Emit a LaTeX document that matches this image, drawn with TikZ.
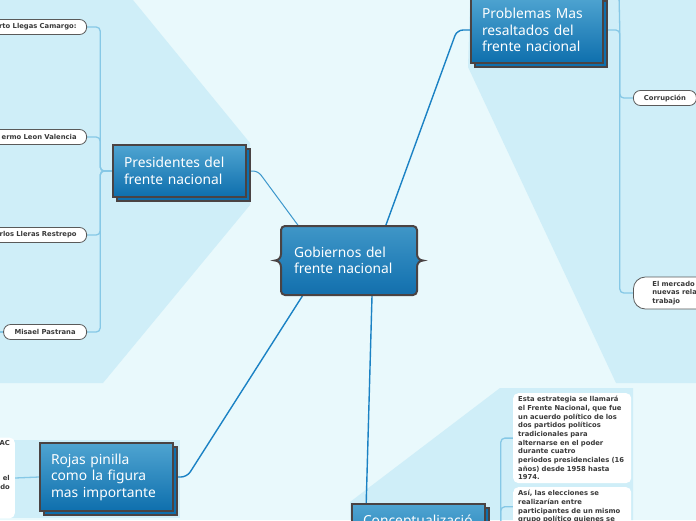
\documentclass[tikz,border=0pt]{standalone}
\usepackage{fontspec}
\setmainfont{DejaVu Sans}
\newfontfamily\ttlfont{Noto Sans}
\usetikzlibrary{shadows,calc}
\definecolor{bgc}{HTML}{E9F9FC}
\definecolor{regc}{HTML}{CFEEF8}
\definecolor{boxtop}{HTML}{4FA4D1}
\definecolor{boxbot}{HTML}{0E6FAD}
\definecolor{bord}{HTML}{4A4343}
\definecolor{mainc}{HTML}{1B82C4}
\definecolor{thinc}{HTML}{3C97CC}
\definecolor{brc}{HTML}{86C8E6}
\definecolor{pillb}{HTML}{5A5A5A}
\definecolor{txt}{HTML}{3A3A3A}
\definecolor{gA}{HTML}{4A98C6}
\definecolor{gB}{HTML}{0A62A0}
\definecolor{gC}{HTML}{1A77B3}
\definecolor{gD}{HTML}{57AAD4}
\pgfdeclareverticalshading{gobshade}{100bp}{color(0bp)=(gA); color(9bp)=(gB); color(35bp)=(gC); color(100bp)=(gD)}
\pgfdeclarelayer{bg}
\pgfdeclarelayer{cn}
\pgfsetlayers{bg,cn,main}
\tikzset{
  topic/.style={rectangle, draw=bord, line width=1.6pt, top color=boxtop, bottom color=boxbot,
    text=white, font=\ttlfont\fontsize{13.8}{16.5}\selectfont, align=left,
    inner xsep=11pt, inner ysep=0pt,
    general shadow={shadow xshift=4pt, shadow yshift=-4pt, fill=boxbot, draw=bord, line width=1.6pt}},
  pill/.style={rectangle, rounded corners=7pt, draw=pillb, line width=0.8pt, fill=white, text=txt,
    font=\bfseries\fontsize{6.8}{8}\selectfont, minimum height=15pt, inner xsep=10pt, inner ysep=0pt},
  note/.style={rectangle, rounded corners=5pt, fill=white, text=txt,
    font=\bfseries\fontsize{6.8}{8.7}\selectfont, align=left, inner xsep=5pt, inner ysep=3pt},
  mainconn/.style={draw=mainc, line width=1.4pt, rounded corners=6pt},
  thinconn/.style={draw=thinc, line width=1pt, rounded corners=5pt},
  branch/.style={draw=brc, line width=1.3pt, rounded corners=4pt},
}
\begin{document}
\begin{tikzpicture}[x=1pt,y=-1pt]
\useasboundingbox (0,0) rectangle (696,520);
\begin{pgfonlayer}{bg}
  \fill[bgc] (0,0) rectangle (696,520);
  \fill[regc] (0,0) -- (133,0) -- (250,143) -- (250,205) -- (103,383) -- (0,383) -- cycle;
  \fill[regc] (470,0) -- (696,0) -- (696,383) -- (616,383) -- (468,67) -- cycle;
  \fill[regc] (500,388) -- (633,388) -- (633,520) -- (350,520) -- (350,502) -- cycle;
  \fill[regc] (0,440) rectangle (180,518);
\end{pgfonlayer}

% central node
\shade[shading=gobshade, draw=bord, line width=2pt]
  (285,226) -- (413,226) to[out=0,in=90] (417,230) -- (417,254)
  to[out=270,in=180] (423,260.5) to[out=180,in=90] (417,267) -- (417,291)
  to[out=270,in=0] (413,295) -- (285,295) to[out=180,in=270] (281,291) -- (281,267)
  to[out=90,in=0] (275,260.5) to[out=0,in=270] (281,254) -- (281,230)
  to[out=90,in=180] (285,226) -- cycle;
\node[text=white, font=\ttlfont\fontsize{13.8}{16.5}\selectfont, align=left, text width=110pt,
  minimum width=136pt, minimum height=69pt, inner xsep=13pt, inner ysep=0pt] (gob) at (349,260.5)
  {Gobiernos del\\frente nacional};

% topic boxes
\node[topic, text width=111pt, minimum width=133pt, minimum height=52pt] (pres) at (179.5,171)
  {Presidentes del\\frente nacional};
\node[topic, text width=110pt, minimum width=132pt, minimum height=66pt] (prob) at (537,30)
  {Problemas Mas\\resaltados del\\frente nacional};
\node[topic, text width=111pt, minimum width=133pt, minimum height=68pt] (rojas) at (106.5,477)
  {Rojas pinilla\\como la figura\\mas importante};
\node[topic, text width=111pt, minimum width=133pt, minimum height=66pt,
  text height=10pt, text depth=34pt] (concept) at (418.5,537)
  {Conceptualizació};

% presidents
\node[pill, anchor=east, text width=110pt, align=right] (p1) at (87,27) {rto Llegas Camargo:};
\node[pill, anchor=east, text width=110pt, align=right] (p2) at (87,137) {ermo Leon Valencia};
\node[pill, anchor=east, text width=110pt, align=right] (p3) at (87,235) {rlos Lleras Restrepo};
\node[pill, anchor=east, minimum width=83pt] (p4) at (87,332) {Misael Pastrana};
\coordinate (m0) at (-5,332);

% problems
\node[pill, anchor=west, minimum width=63pt] (corr) at (633,98) {Corrupción};
\node[pill, rounded corners=12pt, anchor=west, align=left, text width=70pt, inner xsep=19pt,
  minimum height=32pt, font=\bfseries\fontsize{6.8}{8.5}\selectfont] (merc) at (633,293)
  {El mercado\\nuevas rela\\trabajo};
\coordinate (ptop) at (619,-5);

% concept notes
\node[note, anchor=north west, text width=108pt] (c1) at (513,393)
  {Esta estrategia se llamará\\el Frente Nacional, que fue\\un acuerdo político de los\\dos partidos políticos\\tradicionales para\\alternarse en el poder\\durante cuatro\\periodos presidenciales (16\\años) desde 1958 hasta\\1974.};
\node[note, anchor=north west, text width=108pt] (c2) at (513,487)
  {Así, las elecciones se\\realizarían entre\\participantes de un mismo\\grupo político quienes se};

% rojas note
\node[note, anchor=east, text width=60pt, align=right, minimum height=80pt] (rl) at (15,478)
  {AC\\\mbox{}\\\mbox{}\\\mbox{}\\el\\do\\\mbox{}\\\mbox{}\\\mbox{}};

\begin{pgfonlayer}{cn}
  \draw[thinconn] ($(gob.center)+(-25,0)$) -- (258,171) -- (pres.east);
  \draw[mainconn] ($(gob.center)+(24,0)$) -- (457,30) -- (prob.west);
  \draw[mainconn] ($(gob.center)+(-24,0)$) -- (187,477) -- (rojas.east);
  \draw[mainconn] ($(gob.center)+(24,0)$) -- ($(concept.north west)+(15,0)$);
  \foreach \p in {p1,p2,p3,p4}
    \draw[branch] (\p.east) -| ($(pres.west)+(-12,0)$) -- (pres.west);
  \draw[branch] (p4.west) -- (m0);
  \draw[branch] (corr.west) -| ($(prob.east)+(16,0)$) -- (prob.east);
  \draw[branch] (merc.west) -| ($(prob.east)+(16,0)$);
  \draw[branch] ($(prob.east)+(16,0)$) -- (ptop);
  \draw[branch] (c1.west) -| ($(concept.east)+(15,0)$) -- (concept.east);
  \draw[branch] (c2.west) -| ($(concept.east)+(15,0)$);
  \draw[branch] (rl.east) -- (rojas.west);
\end{pgfonlayer}
\end{tikzpicture}
\end{document}
